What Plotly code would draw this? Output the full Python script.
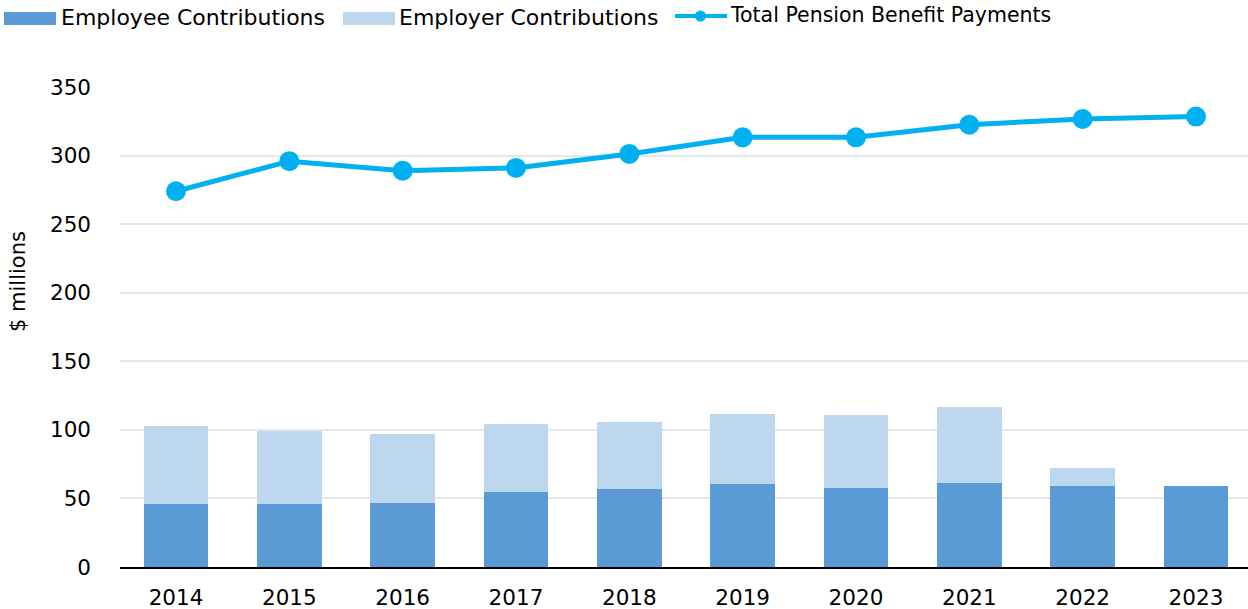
import plotly.graph_objects as go

years = ["2014", "2015", "2016", "2017", "2018", "2019", "2020", "2021", "2022", "2023"]
employee = [46.1, 46.0, 46.7, 54.5, 56.6, 60.5, 57.6, 61.3, 59.3, 59.3]
employer = [56.8, 53.4, 50.3, 49.8, 49.1, 51.3, 53.0, 55.4, 13.1, 0.0]
total_benefits = [274.0, 295.9, 289.0, 291.0, 301.2, 313.3, 313.3, 322.5, 326.7, 328.4]
y_ticks = [0, 50, 100, 150, 200, 250, 300, 350]

FONT = "DejaVu Sans"
C_EMP = "#5B9BD5"
C_ER = "#BDD7EE"
C_LINE = "#00B0F0"

W, H = 1248, 609
L, R, T, B = 120, 0, 87, 42
PW, PH = W - L - R, H - T - B


def px(x):
    return (x - L) / PW


def py(y):
    return (H - B - y) / PH


fig = go.Figure()
fig.add_trace(go.Bar(x=years, y=employee, name="Employee Contributions",
                     marker=dict(color=C_EMP, line=dict(width=0)), showlegend=False))
fig.add_trace(go.Bar(x=years, y=employer, name="Employer Contributions",
                     marker=dict(color=C_ER, line=dict(width=0)), showlegend=False))
fig.add_trace(go.Scatter(x=years, y=total_benefits, mode="lines+markers",
                         name="Total Pension Benefit Payments",
                         line=dict(color=C_LINE, width=5),
                         marker=dict(color=C_LINE, size=20), showlegend=False))

shapes = [
    dict(type="rect", xref="paper", yref="paper", x0=px(4), x1=px(56), y0=py(12), y1=py(25),
         fillcolor=C_EMP, line=dict(width=0), layer="above"),
    dict(type="rect", xref="paper", yref="paper", x0=px(343), x1=px(395), y0=py(12), y1=py(25),
         fillcolor=C_ER, line=dict(width=0), layer="above"),
    dict(type="line", xref="paper", yref="paper", x0=px(675), x1=px(727), y0=py(16), y1=py(16),
         line=dict(color=C_LINE, width=4), layer="above"),
    dict(type="circle", xref="paper", yref="paper", x0=px(695), x1=px(706), y0=py(10.5), y1=py(21.5),
         fillcolor=C_LINE, line=dict(width=0), layer="above"),
]
annotations = [
    dict(text="Employee Contributions", xref="paper", yref="paper", x=px(59), y=py(18),
         xanchor="left", yanchor="middle", showarrow=False, font=dict(size=22)),
    dict(text="Employer Contributions", xref="paper", yref="paper", x=px(397), y=py(18),
         xanchor="left", yanchor="middle", showarrow=False, font=dict(size=22)),
    dict(text="Total Pension Benefit Payments", xref="paper", yref="paper", x=px(728), y=py(15),
         xanchor="left", yanchor="middle", showarrow=False, font=dict(size=20.5)),
    dict(text="$ millions", xref="paper", yref="paper", x=px(18), y=py(282),
         xanchor="center", yanchor="middle", textangle=-90, showarrow=False, font=dict(size=21)),
]

fig.update_layout(
    width=W, height=H,
    barmode="stack", bargap=0.43,
    plot_bgcolor="white", paper_bgcolor="white",
    margin=dict(l=L, r=R, t=T, b=B, autoexpand=False),
    font=dict(family=FONT, size=21, color="black"),
    showlegend=False,
    shapes=shapes,
    annotations=annotations,
)
fig.update_yaxes(range=[0, 350], tickvals=y_ticks, showgrid=True,
                 gridcolor="#E3E6EB", gridwidth=2, zeroline=False,
                 showline=False, ticklabelstandoff=28,
                 tickfont=dict(size=21.5))
fig.update_xaxes(range=[-0.494, 9.459], showline=True, linecolor="black", linewidth=2,
                 tickfont=dict(size=21.5), ticklabelstandoff=10)

fig.write_html("out.html", config={"displayModeBar": False},
               post_script="document.body.style.margin='0';document.body.style.overflow='hidden';")
